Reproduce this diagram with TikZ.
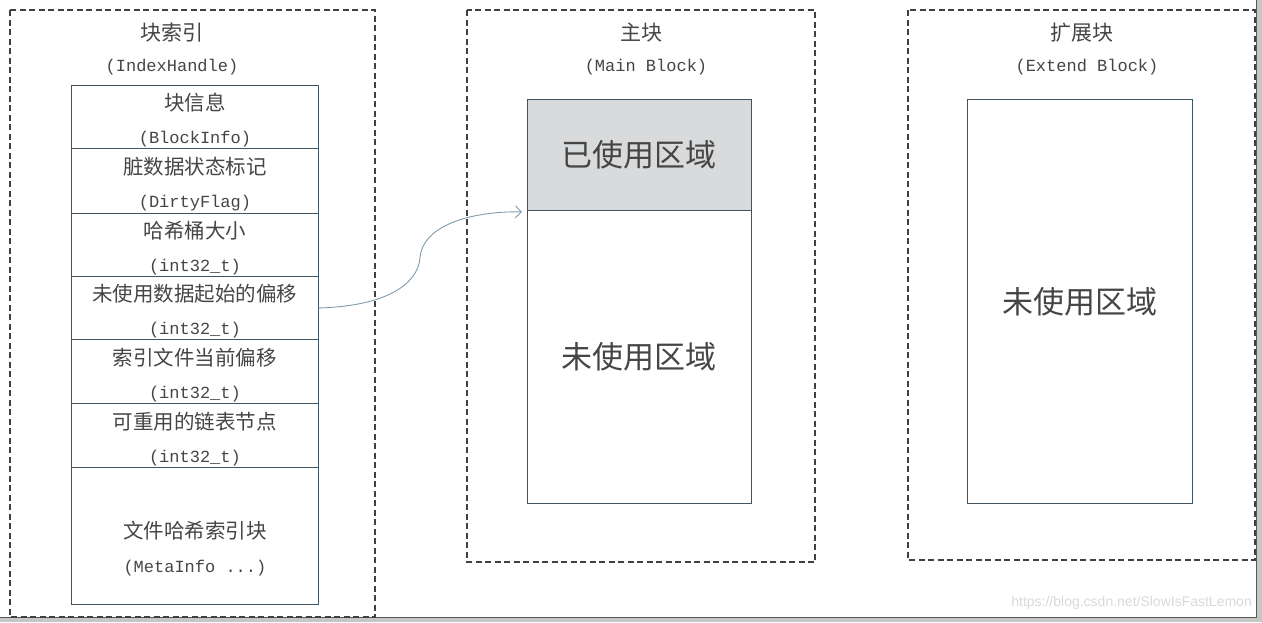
\documentclass[tikz,border=0pt]{standalone}
\usepackage{fontspec}
\newfontfamily\cjk{Noto Sans CJK SC}
\newfontfamily\mono{Liberation Mono}
\newfontfamily\wmfont{Liberation Sans}
\usetikzlibrary{arrows.meta}
\definecolor{txt}{HTML}{454545}
\definecolor{framec}{HTML}{404040}
\definecolor{cellc}{HTML}{3E5663}
\definecolor{usedc}{HTML}{D9DADC}
\definecolor{arrc}{HTML}{7F9CAD}
\newcommand{\cellcjk}[1]{{\cjk\fontsize{20.5}{33}\selectfont #1}}
\newcommand{\cellmono}[1]{{\mono\fontsize{17}{33}\selectfont #1}}
\begin{document}
\begin{tikzpicture}[x=1pt,y=-1pt,
  region/.style={draw=framec,line width=1.6pt,dash pattern=on 6pt off 3.5pt},
  cell/.style={draw=cellc,line width=0.9pt,minimum width=247pt,anchor=north west,inner sep=0pt},
  celltext/.style={inner sep=0pt,align=center,text=txt,font=\fontsize{17}{33}\selectfont},
  blk/.style={draw=cellc,line width=0.9pt,minimum width=224pt,anchor=north west,inner sep=0pt,text=txt,font=\cjk\fontsize{31}{34}\selectfont},
  title/.style={text=txt,inner sep=0pt},
  ctitle/.style={title,font=\cjk\fontsize{21}{24}\selectfont},
  ltitle/.style={title,font=\mono\fontsize{17}{20}\selectfont},
  link/.style={draw=arrc,line width=0.9pt,-{Straight Barb[length=6pt,width=12pt]}}
]
\useasboundingbox (0,0) rectangle (1262,622);
% window frame
\fill[gray!45] (0,618) rectangle (1262,622);
\fill[gray!45] (1257,0) rectangle (1262,622);
\draw[gray!70!black,line width=0.6pt] (1256.5,0) -- (1256.5,617.5) -- (0,617.5);

% dashed regions
\draw[region] (10,10) rectangle (375,617);
\draw[region] (467,10) rectangle (815,562);
\draw[region] (908,10) rectangle (1255,560);

% titles
\node[ctitle] (t1a) at (172,33) {块索引};
\node[ltitle] (t1b) at (172,67) {(IndexHandle)};
\node[ctitle] (t2a) at (641,33) {主块};
\node[ltitle] (t2b) at (646,67) {(Main Block)};
\node[ctitle] (t3a) at (1082,33) {扩展块};
\node[ltitle] (t3b) at (1087,67) {(Extend Block)};

% index stack
\node[cell,minimum height=63pt] (r1) at (71,85) {};
\node[cell,minimum height=65pt] (r2) at (71,148) {};
\node[cell,minimum height=63pt] (r3) at (71,213) {};
\node[cell,minimum height=63pt] (r4) at (71,276) {};
\node[cell,minimum height=64pt] (r5) at (71,339) {};
\node[cell,minimum height=64pt] (r6) at (71,403) {};
\node[cell,minimum height=137pt] (r7) at (71,467) {};

\node[celltext] (l1) at ([yshift=-3.5pt]r1.center) {\cellcjk{块信息}\\\cellmono{(BlockInfo)}};
\node[celltext] (l2) at ([yshift=-3.5pt]r2.center) {\cellcjk{脏数据状态标记}\\\cellmono{(DirtyFlag)}};
\node[celltext] (l3) at ([yshift=-3.5pt]r3.center) {\cellcjk{哈希桶大小}\\\cellmono{(int32\_t)}};
\node[celltext] (l4) at ([yshift=-3.5pt]r4.center) {\cellcjk{未使用数据起始的偏移}\\\cellmono{(int32\_t)}};
\node[celltext] (l5) at ([yshift=-3.5pt]r5.center) {\cellcjk{索引文件当前偏移}\\\cellmono{(int32\_t)}};
\node[celltext] (l6) at ([yshift=-3.5pt]r6.center) {\cellcjk{可重用的链表节点}\\\cellmono{(int32\_t)}};
\node[celltext,font=\fontsize{17}{34}\selectfont] (l7) at ([yshift=-12.5pt]r7.center) {{\cjk\fontsize{20.5}{34}\selectfont 文件哈希索引块}\\{\mono\fontsize{17}{34}\selectfont (MetaInfo ...)}};

% main block
\node[blk,minimum height=111pt,fill=usedc] (used) at (527,99) {已使用区域};
\node[blk,minimum height=293pt] (unused) at (527,210) {未使用区域};

% extend block
\node[blk,minimum width=225pt,minimum height=404pt] (ext) at (967,99) {未使用区域};

% connector
\coordinate (tip) at ([xshift=-5pt,yshift=-1pt]used.south west);
\draw[link] (r4.east) .. controls (390,306) and (418,282) .. (420,258)
  .. controls (422,226) and (470,211) .. (tip);

% watermark
\node[anchor=east,inner sep=0pt,text=gray!30,font=\wmfont\fontsize{14}{16}\selectfont] (wm) at (1252,603) {https://blog.csdn.net/SlowIsFastLemon};
\end{tikzpicture}
\end{document}
